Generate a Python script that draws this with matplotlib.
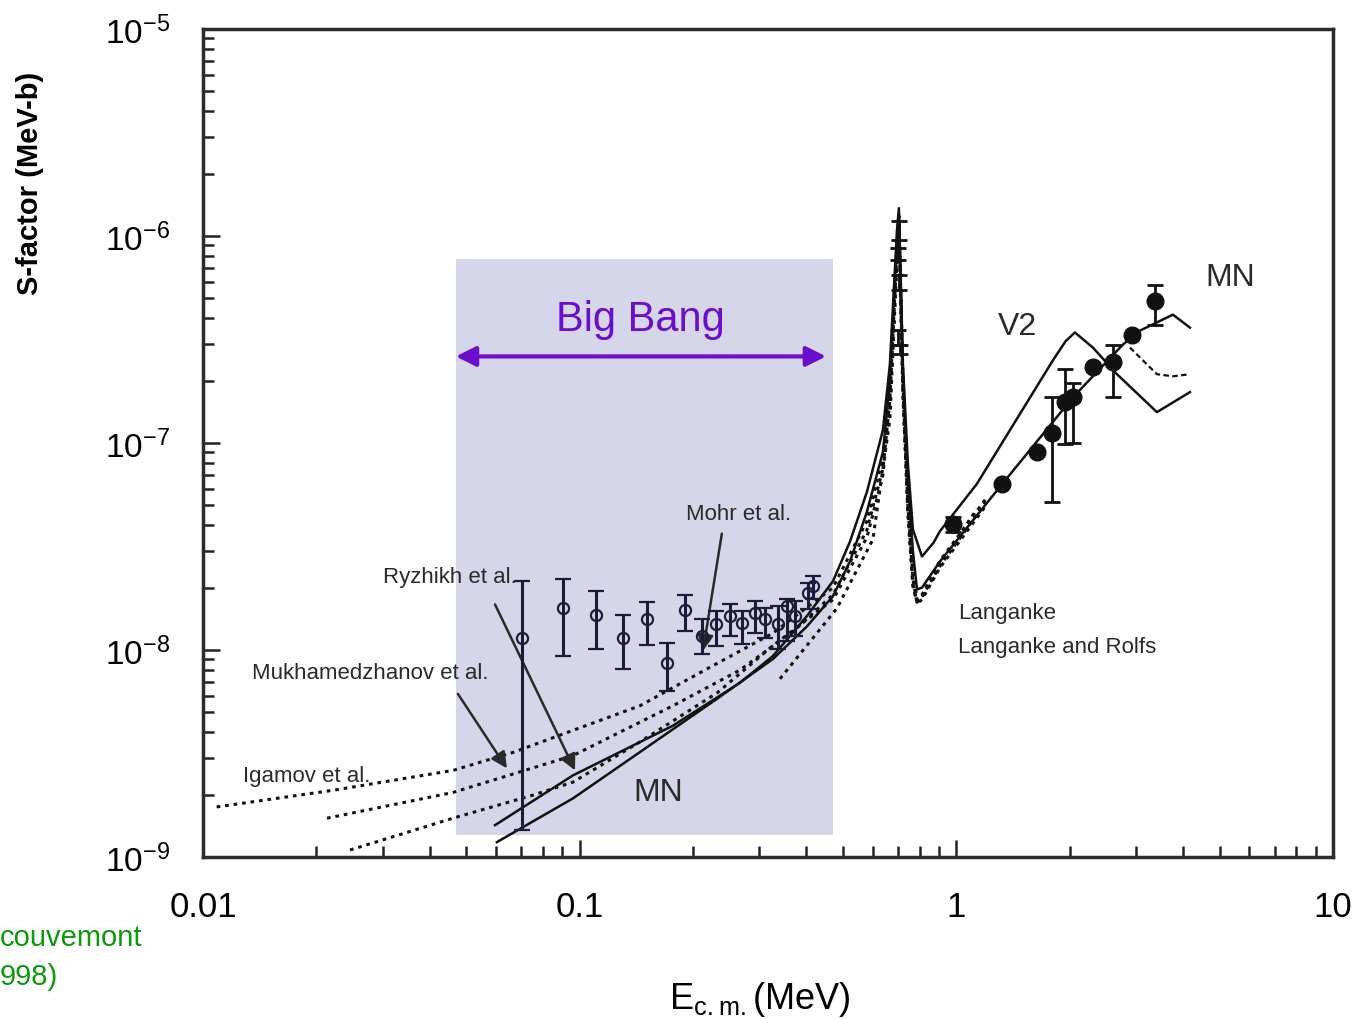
import numpy as np
import matplotlib.pyplot as plt
from matplotlib.ticker import NullFormatter

plt.rcParams['font.family'] = ['Liberation Sans', 'DejaVu Sans']
narrow = ['Liberation Sans Narrow', 'Liberation Sans', 'DejaVu Sans']

# ---- theory curves: E_cm (MeV), S-factor (MeV-b)
v2_E = [0.0596, 0.0960, 0.1769, 0.2664, 0.3260, 0.4012, 0.4704, 0.5220, 0.5790,
        0.6384, 0.6662, 0.6954, 0.7039, 0.7214, 0.7437, 0.7669, 0.8105, 0.87, 0.9048,
        1.134, 1.805, 1.95, 2.064, 2.305, 2.669, 3.408, 4.170]
v2_S = [1.425e-9, 2.48e-9, 4.31e-9, 6.94e-9, 9.36e-9, 1.46e-8, 2.15e-8, 3.34e-8, 5.81e-8,
        1.155e-7, 2.40e-7, 1.057e-6, 1.363e-6, 2.40e-7, 7.93e-8, 3.82e-8, 2.83e-8, 3.3e-8, 3.75e-8,
        6.35e-8, 2.51e-7, 3.1e-7, 3.42e-7, 2.89e-7, 2.15e-7, 1.41e-7, 1.76e-7]

mn_E = [0.0603, 0.0960, 0.2315, 0.3260, 0.4012, 0.4704, 0.5220, 0.5790, 0.6384,
        0.6662, 0.6954, 0.7039, 0.7214, 0.7437, 0.7669, 0.7861, 0.8105, 0.9048,
        1.305, 2.039, 2.769, 3.072, 3.758, 4.170]
mn_S = [1.18e-9, 1.92e-9, 5.81e-9, 9.05e-9, 1.30e-8, 1.82e-8, 2.68e-8, 4.66e-8, 9.05e-8,
        1.96e-7, 9.25e-7, 1.29e-6, 2.19e-7, 6.5e-8, 3.0e-8, 1.965e-8, 2.0e-8, 2.68e-8,
        6.14e-8, 1.66e-7, 2.99e-7, 3.49e-7, 4.17e-7, 3.61e-7]

mn_dash_E = [2.890, 3.072, 3.408, 3.758, 4.170]
mn_dash_S = [2.89e-7, 2.59e-7, 2.15e-7, 2.1e-7, 2.15e-7]

igamov_E = [0.01087, 0.02214, 0.0461, 0.0665, 0.1446, 0.2177, 0.3260, 0.4704, 0.5790,
            0.6384, 0.6662, 0.6954, 0.7039, 0.7214, 0.7437, 0.7669, 0.7861, 0.8105,
            0.9048, 1.134]
igamov_S = [1.745e-9, 2.10e-9, 2.62e-9, 3.20e-9, 5.38e-9, 8.10e-9, 1.207e-8, 2.0e-8, 4.2e-8,
            8.5e-8, 1.8e-7, 9.0e-7, 1.25e-6, 2.0e-7, 5.5e-8, 2.5e-8, 1.75e-8, 1.8e-8,
            2.6e-8, 4.8e-8]

mukh_E = [0.02134, 0.0461, 0.0960, 0.1769, 0.2664, 0.3727, 0.4704, 0.5790, 0.6384,
          0.6662, 0.6954, 0.7039, 0.7214, 0.7437, 0.7669, 0.7861, 0.8105, 0.9048, 1.2]
mukh_S = [1.54e-9, 2.05e-9, 3.09e-9, 5.38e-9, 8.0e-9, 1.25e-8, 1.85e-8, 3.8e-8, 7.5e-8,
          1.6e-7, 8.5e-7, 1.2e-6, 1.9e-7, 5.0e-8, 2.2e-8, 1.68e-8, 1.75e-8, 2.5e-8, 5.0e-8]

ryzh_E = [0.02456, 0.0461, 0.07516, 0.0960, 0.1446, 0.2315, 0.3260, 0.4704, 0.5790,
          0.6384, 0.6662, 0.6954, 0.7039, 0.7214, 0.7437, 0.7669, 0.7861, 0.8105, 0.9048, 1.2]
ryzh_S = [1.081e-9, 1.54e-9, 1.99e-9, 2.3e-9, 3.6e-9, 6.2e-9, 1.05e-8, 1.75e-8, 3.5e-8,
          7.0e-8, 1.5e-7, 8.0e-7, 1.15e-6, 1.8e-7, 4.8e-8, 2.1e-8, 1.7e-8, 1.8e-8, 2.55e-8, 5.2e-8]

mohr_E = [0.3402, 0.4820, 0.6004, 0.6662, 0.6954, 0.7039, 0.7214, 0.7437, 0.7669,
          0.7861, 0.8105, 0.9048, 1.2]
mohr_S = [7.26e-9, 1.59e-8, 3.42e-8, 1.3e-7, 7.5e-7, 1.1e-6, 1.7e-7, 4.5e-8, 2.0e-8,
          1.72e-8, 1.85e-8, 2.7e-8, 5.4e-8]

# ---- measurements
low_E = [0.07015, 0.09014, 0.1105, 0.1306, 0.1507, 0.1702, 0.1903, 0.2108, 0.2301,
         0.2506, 0.2692, 0.2920, 0.3104, 0.3361, 0.3550, 0.3727, 0.4036, 0.4161]
low_S = [1.146e-8, 1.597e-8, 1.48e-8, 1.14e-8, 1.41e-8, 8.69e-9, 1.56e-8, 1.168e-8, 1.33e-8,
         1.46e-8, 1.35e-8, 1.51e-8, 1.41e-8, 1.33e-8, 1.63e-8, 1.46e-8, 1.88e-8, 2.03e-8]
low_lo = [1.349e-9, 9.36e-9, 1.01e-8, 8.1e-9, 1.054e-8, 6.35e-9, 1.234e-8, 9.57e-9, 1.045e-8,
          1.168e-8, 1.069e-8, 1.207e-8, 1.142e-8, 1.011e-8, 1.105e-8, 1.168e-8, 1.57e-8, 1.76e-8]
low_hi = [2.15e-8, 2.20e-8, 1.92e-8, 1.47e-8, 1.70e-8, 1.084e-8, 1.84e-8, 1.41e-8, 1.54e-8,
          1.66e-8, 1.54e-8, 1.72e-8, 1.59e-8, 1.63e-8, 1.76e-8, 1.72e-8, 2.10e-8, 2.27e-8]

res_E = [0.703, 0.701, 0.706, 0.700, 0.707]
res_S = [1.10e-6, 8.2e-7, 6.0e-7, 3.25e-7, 2.85e-7]
res_lo = [9.57e-7, 7.66e-7, 5.50e-7, 2.99e-7, 2.68e-7]
res_hi = [1.18e-6, 8.76e-7, 6.49e-7, 3.53e-7, 2.99e-7]

high_E = [0.9795, 1.321, 1.637, 1.794, 1.942, 2.039, 2.305, 2.604, 2.926, 3.367]
high_S = [4.04e-8, 6.35e-8, 9.05e-8, 1.117e-7, 1.57e-7, 1.66e-7, 2.32e-7, 2.45e-7, 3.34e-7, 4.87e-7]
high_lo = [3.7e-8, 6.35e-8, 9.05e-8, 5.21e-8, 9.89e-8, 1.0e-7, 2.32e-7, 1.66e-7, 3.34e-7, 3.73e-7]
high_hi = [4.4e-8, 6.35e-8, 9.05e-8, 1.66e-7, 2.27e-7, 1.96e-7, 2.32e-7, 2.99e-7, 3.34e-7, 5.81e-7]

bigbang_E = [0.047, 0.47]
bigbang_S = [1.28e-9, 7.7e-7]

xticks = [0.01, 0.1, 1, 10]
xticklabels = ['0.01', '0.1', '1', '10']
yticks = [1e-9, 1e-8, 1e-7, 1e-6, 1e-5]
yticklabels = [r'$\mathregular{10^{-9}}$', r'$\mathregular{10^{-8}}$', r'$\mathregular{10^{-7}}$',
               r'$\mathregular{10^{-6}}$', r'$\mathregular{10^{-5}}$']

line_c = '#111111'
bar_c = '#1c1c38'
purple = '#6a0dcc'
txt_c = '#2a2a2a'

fig = plt.figure(figsize=(13.57, 10.20), dpi=100)
ax = fig.add_axes([203/1357, 1-858/1020, (1333-203)/1357, (858-30)/1020])
ax.set_xscale('log')
ax.set_yscale('log')
ax.set_xlim(0.01, 10)
ax.set_ylim(1e-9, 1e-5)

# Big Bang window
ax.fill_between(bigbang_E, bigbang_S[0], bigbang_S[1], color='#d5d6ea', lw=0, zorder=0)

# theory curves
ax.plot(v2_E, v2_S, color=line_c, lw=1.8)
ax.plot(mn_E, mn_S, color=line_c, lw=1.8)
ax.plot(mn_dash_E, mn_dash_S, color=line_c, lw=1.6, dashes=(2.5, 1.5))
dot = dict(color=line_c, lw=2.2, dashes=(1.2, 1.6))
ax.plot(igamov_E, igamov_S, **dot)
ax.plot(mukh_E, mukh_S, **dot)
ax.plot(ryzh_E, ryzh_S, **dot)
ax.plot(mohr_E, mohr_S, **dot)

# measurements
low_S_a = np.array(low_S)
ax.errorbar(low_E, low_S, yerr=[low_S_a - np.array(low_lo), np.array(low_hi) - low_S_a],
            fmt='o', ms=8, mfc='none', mec=bar_c, mew=1.6, ecolor=bar_c, elinewidth=2.2,
            capsize=5.5, capthick=2.2, zorder=4)
res_S_a = np.array(res_S)
ax.errorbar(res_E, res_S, yerr=[res_S_a - np.array(res_lo), np.array(res_hi) - res_S_a],
            fmt='none', ecolor=line_c, elinewidth=2, capsize=6, capthick=2, zorder=4)
high_S_a = np.array(high_S)
ax.errorbar(high_E, high_S, yerr=[high_S_a - np.array(high_lo), np.array(high_hi) - high_S_a],
            fmt='o', ms=12, color=line_c, ecolor=line_c, elinewidth=2, capsize=6,
            capthick=2, zorder=4)

# annotation arrows
head = dict(arrowstyle='-|>', color=txt_c, lw=1.8, mutation_scale=24, shrinkA=0, shrinkB=0)
ax.annotate('', xy=(0.2125, 9.9e-9), xytext=(0.2385, 3.65e-8), arrowprops=head)
ax.annotate('', xy=(0.0972, 2.62e-9), xytext=(0.0596, 1.66e-8), arrowprops=head)
ax.annotate('', xy=(0.0641, 2.68e-9), xytext=(0.0475, 6.14e-9), arrowprops=head)
ax.annotate('', xy=(0.0469, 2.62e-7), xytext=(0.451, 2.62e-7),
            arrowprops=dict(arrowstyle='<|-|>', color=purple, lw=3, mutation_scale=30,
                            shrinkA=0, shrinkB=0))

ax.text(0.1446, 3.53e-7, 'Big Bang', color=purple, fontsize=30, ha='center', va='baseline')

lab = dict(color=txt_c, fontsize=16, va='center', ha='left')
ax.text(0.1915, 4.56e-8, 'Mohr et al.', **lab)
ax.text(0.0300, 2.27e-8, 'Ryzhikh et al.', **lab)
ax.text(0.01349, 7.75e-9, 'Mukhamedzhanov et al.', **lab)
ax.text(0.01277, 2.48e-9, 'Igamov et al.', **lab)
ax.text(1.010, 1.52e-8, 'Langanke', **lab)
ax.text(1.010, 1.045e-8, 'Langanke and Rolfs', **lab)
big = dict(color=txt_c, fontsize=23, va='center', ha='left')
ax.text(0.1385, 2.05e-9, 'MN', **big)
ax.text(1.289, 3.69e-7, 'V2', **big)
ax.text(4.571, 6.35e-7, 'MN', **big)

# axes styling
ax.set_xticks(xticks)
ax.set_xticklabels(xticklabels, fontsize=25, family=narrow)
ax.set_yticks(yticks)
ax.set_yticklabels(yticklabels, fontsize=24)
ax.xaxis.set_minor_formatter(NullFormatter())
ax.yaxis.set_minor_formatter(NullFormatter())
ax.tick_params(which='both', direction='in', top=False, right=False, width=1.8, color='#222222')
ax.tick_params(which='major', length=12, pad=24)
ax.tick_params(which='minor', length=8)
for s in ax.spines.values():
    s.set_linewidth(2.5)
    s.set_color('#2b2b2b')

fig.text(30/1357, 1-183/1020, 'S-factor (MeV-b)', rotation=90, fontsize=21,
         fontweight='bold', ha='center', va='center')
fig.text(760/1357, 1-1000/1020, r'$\mathregular{E_{c.m.}}$(MeV)', fontsize=26,
         family=narrow, ha='center', va='center')
fig.text(0, 1-938/1020, 'couvemont', color='#0a9a0a', fontsize=21, family=narrow,
         ha='left', va='center')
fig.text(0, 1-977/1020, '998)', color='#0a9a0a', fontsize=21, family=narrow,
         ha='left', va='center')

fig.savefig('out.png', dpi=100)
